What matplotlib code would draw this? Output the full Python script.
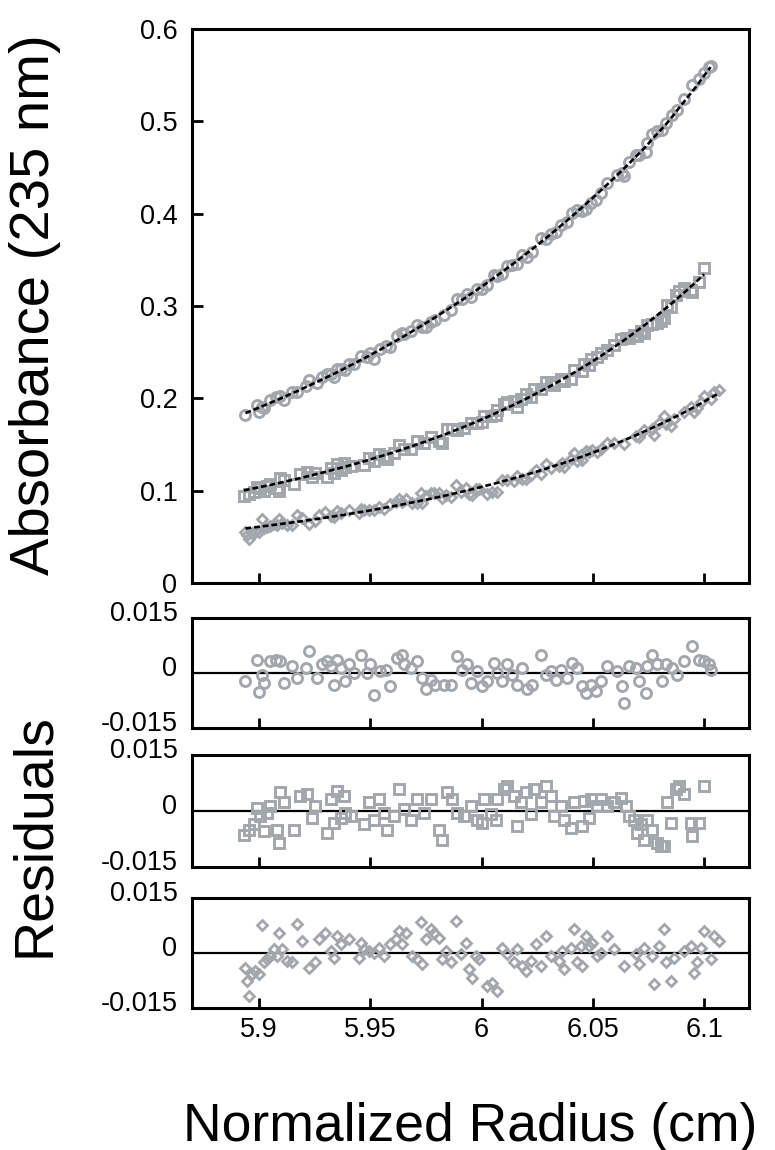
import matplotlib.pyplot as plt
import matplotlib.transforms as mtransforms
import numpy as np

# radial scans at 235 nm, three loading concentrations
circ_r = [5.8940, 5.8993, 5.9000, 5.9015, 5.9022, 5.9052, 5.9075, 5.9097, 5.9112, 5.9150,
          5.9172, 5.9210, 5.9225, 5.9262, 5.9284, 5.9307, 5.9322, 5.9337, 5.9352, 5.9367,
          5.9389, 5.9404, 5.9427, 5.9457, 5.9487, 5.9501, 5.9516, 5.9546, 5.9569, 5.9591,
          5.9621, 5.9644, 5.9651, 5.9681, 5.9711, 5.9734, 5.9749, 5.9771, 5.9793, 5.9831,
          5.9861, 5.9891, 5.9913, 5.9936, 5.9951, 5.9981, 6.0003, 6.0025, 6.0055, 6.0070,
          6.0093, 6.0115, 6.0138, 6.0160, 6.0183, 6.0205, 6.0228, 6.0265, 6.0287, 6.0310,
          6.0332, 6.0355, 6.0385, 6.0407, 6.0430, 6.0452, 6.0467, 6.0490, 6.0512, 6.0534,
          6.0564, 6.0609, 6.0632, 6.0639, 6.0662, 6.0692, 6.0707, 6.0737, 6.0744, 6.0766,
          6.0789, 6.0811, 6.0826, 6.0856, 6.0879, 6.0909, 6.0946, 6.0976, 6.0998, 6.1021,
          6.1028]
circ_abs = [0.1817, 0.1926, 0.1847, 0.1909, 0.1894, 0.1984, 0.2011, 0.2030, 0.1987, 0.2073,
            0.2064, 0.2134, 0.2196, 0.2165, 0.2227, 0.2263, 0.2267, 0.2234, 0.2320, 0.2316,
            0.2306, 0.2371, 0.2376, 0.2464, 0.2452, 0.2493, 0.2431, 0.2534, 0.2569, 0.2554,
            0.2672, 0.2713, 0.2696, 0.2729, 0.2790, 0.2778, 0.2769, 0.2828, 0.2847, 0.2906,
            0.2952, 0.3077, 0.3076, 0.3127, 0.3102, 0.3183, 0.3179, 0.3229, 0.3331, 0.3330,
            0.3348, 0.3433, 0.3446, 0.3459, 0.3548, 0.3530, 0.3586, 0.3739, 0.3727, 0.3782,
            0.3803, 0.3877, 0.3915, 0.4002, 0.4037, 0.4034, 0.4047, 0.4120, 0.4150, 0.4226,
            0.4334, 0.4424, 0.4437, 0.4407, 0.4562, 0.4630, 0.4630, 0.4671, 0.4762, 0.4859,
            0.4890, 0.4901, 0.4986, 0.5065, 0.5118, 0.5245, 0.5398, 0.5454, 0.5523, 0.5589,
            0.5596]
circ_res = [-0.0023, 0.0034, -0.0052, -0.0005, -0.0027, 0.0032, 0.0036, 0.0032, -0.0027, 0.0018,
            -0.0014, 0.0014, 0.0059, -0.0014, 0.0023, 0.0032, 0.0018, -0.0032, 0.0036, 0.0014,
            -0.0023, 0.0023, 0.0000, 0.0050, 0.0000, 0.0023, -0.0059, 0.0005, 0.0009, -0.0036,
            0.0041, 0.0050, 0.0023, 0.0014, 0.0032, -0.0014, -0.0045, -0.0018, -0.0032, -0.0032,
            -0.0032, 0.0045, 0.0009, 0.0023, -0.0027, 0.0005, -0.0036, -0.0023, 0.0027, 0.0000,
            -0.0023, 0.0023, -0.0005, -0.0032, 0.0014, -0.0045, -0.0032, 0.0050, -0.0005, 0.0005,
            -0.0018, 0.0009, -0.0014, 0.0027, 0.0014, -0.0036, -0.0055, -0.0032, -0.0050, -0.0023,
            0.0018, 0.0005, -0.0036, -0.0082, 0.0018, 0.0014, -0.0023, -0.0055, 0.0018, 0.0050,
            0.0023, -0.0023, 0.0023, 0.0014, -0.0005, 0.0032, 0.0073, 0.0036, 0.0032, 0.0023,
            0.0009]

sq_r = [5.8933, 5.8955, 5.8978, 5.8993, 5.9007, 5.9022, 5.9037, 5.9052, 5.9082, 5.9090,
        5.9097, 5.9112, 5.9157, 5.9187, 5.9217, 5.9240, 5.9254, 5.9307, 5.9322, 5.9337,
        5.9352, 5.9367, 5.9382, 5.9389, 5.9412, 5.9472, 5.9494, 5.9516, 5.9539, 5.9561,
        5.9576, 5.9606, 5.9629, 5.9651, 5.9681, 5.9711, 5.9741, 5.9771, 5.9808, 5.9823,
        5.9846, 5.9868, 5.9891, 5.9921, 5.9951, 5.9981, 6.0003, 6.0010, 6.0040, 6.0063,
        6.0070, 6.0100, 6.0115, 6.0145, 6.0160, 6.0175, 6.0198, 6.0220, 6.0235, 6.0265,
        6.0287, 6.0310, 6.0325, 6.0355, 6.0370, 6.0400, 6.0415, 6.0452, 6.0460, 6.0482,
        6.0490, 6.0519, 6.0534, 6.0564, 6.0594, 6.0624, 6.0647, 6.0662, 6.0684, 6.0699,
        6.0714, 6.0729, 6.0744, 6.0766, 6.0789, 6.0804, 6.0819, 6.0834, 6.0849, 6.0871,
        6.0886, 6.0909, 6.0939, 6.0946, 6.0976, 6.0999]
sq_abs = [0.0941, 0.0964, 0.0990, 0.1042, 0.1026, 0.0994, 0.1050, 0.1077, 0.1029, 0.0997,
          0.1137, 0.1118, 0.1070, 0.1178, 0.1200, 0.1150, 0.1191, 0.1150, 0.1251, 0.1196,
          0.1292, 0.1229, 0.1298, 0.1256, 0.1263, 0.1282, 0.1357, 0.1327, 0.1399, 0.1378,
          0.1344, 0.1403, 0.1494, 0.1457, 0.1454, 0.1534, 0.1522, 0.1585, 0.1536, 0.1522,
          0.1670, 0.1673, 0.1658, 0.1678, 0.1735, 0.1729, 0.1743, 0.1814, 0.1805, 0.1816,
          0.1879, 0.1939, 0.1965, 0.1972, 0.1908, 0.1989, 0.2044, 0.2012, 0.2098, 0.2100,
          0.2173, 0.2176, 0.2141, 0.2209, 0.2193, 0.2213, 0.2302, 0.2292, 0.2372, 0.2359,
          0.2422, 0.2448, 0.2490, 0.2519, 0.2577, 0.2640, 0.2657, 0.2655, 0.2685, 0.2676,
          0.2726, 0.2712, 0.2794, 0.2808, 0.2816, 0.2836, 0.2866, 0.3013, 0.2988, 0.3124,
          0.3164, 0.3190, 0.3178, 0.3157, 0.3260, 0.3412]
sq_res = [-0.0063, -0.0050, -0.0036, 0.0009, -0.0014, -0.0054, -0.0005, 0.0014, -0.0050, -0.0086,
          0.0050, 0.0023, -0.0050, 0.0041, 0.0045, -0.0018, 0.0014, -0.0059, 0.0032, -0.0032,
          0.0054, -0.0018, 0.0041, -0.0005, -0.0014, -0.0036, 0.0023, -0.0023, 0.0032, -0.0005,
          -0.0050, -0.0014, 0.0059, 0.0005, -0.0023, 0.0032, -0.0005, 0.0032, -0.0050, -0.0077,
          0.0050, 0.0032, -0.0005, -0.0014, 0.0014, -0.0023, -0.0032, 0.0032, -0.0009, -0.0023,
          0.0032, 0.0059, 0.0068, 0.0041, -0.0041, 0.0023, 0.0050, -0.0009, 0.0059, 0.0023,
          0.0068, 0.0041, -0.0014, 0.0014, -0.0023, -0.0045, 0.0023, -0.0041, 0.0027, -0.0018,
          0.0032, 0.0014, 0.0032, 0.0014, 0.0023, 0.0036, 0.0014, -0.0014, -0.0023, -0.0059,
          -0.0036, -0.0077, -0.0023, -0.0050, -0.0086, -0.0095, -0.0095, 0.0023, -0.0032, 0.0059,
          0.0068, 0.0045, -0.0032, -0.0068, -0.0032, 0.0068]

dia_r = [5.8940, 5.8948, 5.8955, 5.8970, 5.8985, 5.9000, 5.9015, 5.9022, 5.9037, 5.9052,
         5.9067, 5.9082, 5.9090, 5.9105, 5.9127, 5.9150, 5.9172, 5.9195, 5.9225, 5.9254,
         5.9269, 5.9299, 5.9322, 5.9337, 5.9352, 5.9367, 5.9404, 5.9449, 5.9457, 5.9472,
         5.9494, 5.9516, 5.9539, 5.9561, 5.9591, 5.9614, 5.9629, 5.9644, 5.9659, 5.9689,
         5.9711, 5.9726, 5.9734, 5.9749, 5.9771, 5.9786, 5.9808, 5.9823, 5.9838, 5.9861,
         5.9883, 5.9906, 5.9928, 5.9943, 5.9958, 5.9973, 5.9988, 6.0025, 6.0048, 6.0070,
         6.0093, 6.0115, 6.0145, 6.0160, 6.0183, 6.0198, 6.0220, 6.0243, 6.0265, 6.0287,
         6.0310, 6.0347, 6.0362, 6.0370, 6.0400, 6.0415, 6.0430, 6.0445, 6.0452, 6.0467,
         6.0482, 6.0497, 6.0519, 6.0534, 6.0564, 6.0594, 6.0639, 6.0692, 6.0707, 6.0729,
         6.0766, 6.0774, 6.0796, 6.0819, 6.0826, 6.0849, 6.0864, 6.0909, 6.0939, 6.0954,
         6.0969, 6.0984, 6.0999, 6.1028, 6.1043, 6.1066]
dia_abs = [0.0553, 0.0518, 0.0480, 0.0544, 0.0557, 0.0552, 0.0690, 0.0591, 0.0604, 0.0618,
           0.0641, 0.0627, 0.0693, 0.0653, 0.0628, 0.0631, 0.0742, 0.0705, 0.0643, 0.0667,
           0.0735, 0.0764, 0.0722, 0.0710, 0.0775, 0.0758, 0.0786, 0.0754, 0.0798, 0.0786,
           0.0790, 0.0796, 0.0819, 0.0806, 0.0852, 0.0875, 0.0905, 0.0876, 0.0914, 0.0866,
           0.0867, 0.0975, 0.0865, 0.0940, 0.0978, 0.0977, 0.0975, 0.0924, 0.0954, 0.0936,
           0.1061, 0.0983, 0.1028, 0.0963, 0.0950, 0.1018, 0.1018, 0.0968, 0.0991, 0.0982,
           0.1115, 0.1112, 0.1110, 0.1156, 0.1126, 0.1124, 0.1166, 0.1229, 0.1185, 0.1284,
           0.1248, 0.1263, 0.1302, 0.1258, 0.1342, 0.1405, 0.1327, 0.1385, 0.1336, 0.1431,
           0.1417, 0.1440, 0.1424, 0.1447, 0.1520, 0.1513, 0.1511, 0.1597, 0.1586, 0.1655,
           0.1673, 0.1604, 0.1734, 0.1805, 0.1723, 0.1700, 0.1781, 0.1854, 0.1906, 0.1852,
           0.1900, 0.1960, 0.2026, 0.1989, 0.2073, 0.2093]
dia_res = [-0.0039, -0.0076, -0.0116, -0.0057, -0.0048, -0.0057, 0.0076, -0.0025, -0.0016, -0.0007,
           0.0011, -0.0007, 0.0056, 0.0011, -0.0021, -0.0025, 0.0079, 0.0034, -0.0039, -0.0025,
           0.0038, 0.0056, 0.0006, -0.0012, 0.0047, 0.0025, 0.0038, -0.0012, 0.0029, 0.0011,
           0.0006, 0.0002, 0.0015, -0.0007, 0.0025, 0.0038, 0.0061, 0.0025, 0.0056, -0.0007,
           -0.0016, 0.0084, -0.0030, 0.0038, 0.0065, 0.0056, 0.0043, -0.0016, 0.0006, -0.0025,
           0.0088, -0.0003, 0.0029, -0.0044, -0.0066, -0.0007, -0.0016, -0.0089, -0.0080, -0.0103,
           0.0015, -0.0003, -0.0025, 0.0011, -0.0035, -0.0048, -0.0021, 0.0025, -0.0035, 0.0047,
           -0.0007, -0.0021, 0.0006, -0.0044, 0.0015, 0.0065, -0.0025, 0.0020, -0.0035, 0.0047,
           0.0020, 0.0029, -0.0007, 0.0002, 0.0047, 0.0011, -0.0035, -0.0003, -0.0030, 0.0015,
           -0.0007, -0.0085, 0.0020, 0.0065, -0.0025, -0.0075, -0.0012, 0.0006, 0.0020, -0.0053,
           -0.0025, 0.0015, 0.0061, -0.0016, 0.0047, 0.0034]

x_ticks = [5.9, 5.95, 6.0, 6.05, 6.1]
x_ticklabels = ['5.9', '5.95', '6', '6.05', '6.1']
abs_ticks = [0, 0.1, 0.2, 0.3, 0.4, 0.5, 0.6]
abs_ticklabels = ['0', '0.1', '0.2', '0.3', '0.4', '0.5', '0.6']
res_ticks = [-0.015, 0, 0.015]
res_ticklabels = ['-0.015', '0', '0.015']

plt.rcParams['font.family'] = ['Liberation Sans', 'DejaVu Sans']

gray = '#a2a7ad'
series = [
    (circ_r, circ_abs, circ_res, dict(marker='o', ms=7.2, mew=2.1)),
    (sq_r, sq_abs, sq_res, dict(marker='s', ms=7.2, mew=2.1)),
    (dia_r, dia_abs, dia_res, dict(marker='D', ms=5.2, mew=2.0)),
]

fig = plt.figure(figsize=(7.75, 11.5), dpi=100)
ax_top = fig.add_axes([0.2477, 0.4930, 0.7187, 0.4818])
res_axes = [
    fig.add_axes([0.2477, 0.3670, 0.7187, 0.0957]),
    fig.add_axes([0.2477, 0.2461, 0.7187, 0.0974]),
    fig.add_axes([0.2477, 0.1232, 0.7187, 0.0957]),
]


def frame(ax):
    for sp in ax.spines.values():
        sp.set_linewidth(2.2)
    ax.set_xlim(5.87, 6.12)
    ax.set_xticks(x_ticks)
    ax.tick_params(direction='in', width=2, length=7, labelsize=19.5,
                   top=False, right=False)
    ax.tick_params(axis='x', pad=6)


# absorbance scans with the fitted curves on top
frame(ax_top)
for r, a, res, mk in series:
    r = np.array(r)
    a = np.array(a)
    fit = a - np.array(res)
    ax_top.plot(r, a, linestyle='none', mfc='none', mec=gray,
                zorder=2, **mk)
    ax_top.plot(r, fit, color='black', lw=1.9, dashes=(2.2, 1.1), zorder=3)
ax_top.set_ylim(0, 0.6)
ax_top.set_yticks(abs_ticks)
ax_top.set_yticklabels(abs_ticklabels)
ax_top.tick_params(axis='y', pad=10.5, length=8)
ax_top.tick_params(axis='x', labelbottom=False)

# residual panels, one per scan
shift = mtransforms.ScaledTranslation(0, 5 / 72, fig.dpi_scale_trans)
for ax, (r, a, res, mk) in zip(res_axes, series):
    frame(ax)
    ax.axhline(0, color='black', lw=1.6, zorder=1)
    ax.plot(r, res, linestyle='none', mfc='none', mec=gray,
            zorder=2, **mk)
    ax.set_ylim(-0.015, 0.015)
    ax.set_yticks(res_ticks)
    ax.set_yticklabels(res_ticklabels)
    ax.tick_params(axis='y', length=0, pad=10.5)
    for lab in ax.get_yticklabels():
        lab.set_transform(lab.get_transform() + shift)
    if ax is res_axes[-1]:
        ax.set_xticklabels(x_ticklabels)
    else:
        ax.tick_params(axis='x', labelbottom=False)

fig.text(0.045, 0.7348, 'Absorbance (235 nm)', rotation=90, fontsize=40.5,
         ha='center', va='center')
fig.text(0.045, 0.2739, 'Residuals', rotation=90, fontsize=40,
         ha='center', va='center')
fig.text(0.607, 0.020, 'Normalized Radius (cm)', fontsize=38.5,
         ha='center', va='center')

fig.savefig('out.png', dpi=100)
